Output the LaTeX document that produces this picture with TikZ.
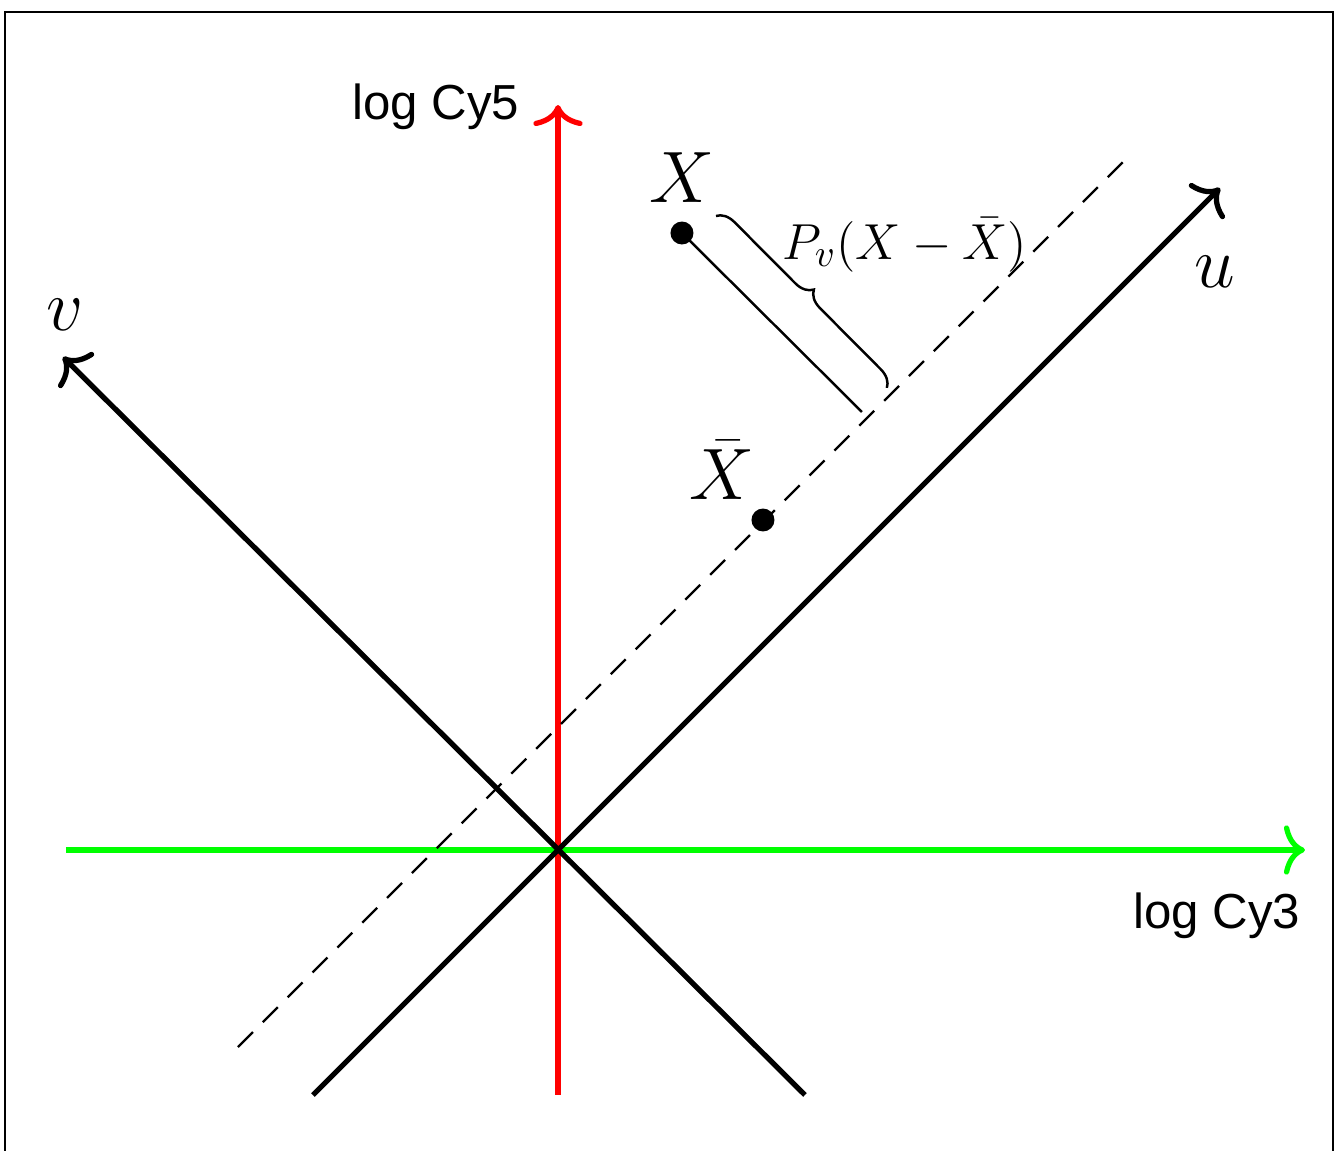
\documentclass[tikz,border=0pt]{standalone}
\usepackage{fontspec}
\setsansfont{Liberation Sans}
\usetikzlibrary{positioning, arrows.meta, calc, decorations.pathreplacing}
\definecolor{axisGreen}{HTML}{00FF00}
\definecolor{axisRed}{HTML}{FF0000}

\begin{document}
\begin{tikzpicture}[
      axis/.style={line width=1.5pt, -{To[length=6pt, width=14pt]}},
      dot/.style={circle, fill=black, inner sep=0pt, minimum size=0.23cm},
      chan/.style={font=\sffamily\fontsize{14}{17}\selectfont, inner sep=2pt},
      mlabel/.style={font=\fontsize{20}{24}\selectfont, inner sep=1pt},
      brace/.style={decorate, decoration={brace, amplitude=5pt}, line width=0.7pt}]
    \useasboundingbox (-5.58,-3.01) rectangle (7.77,8.50);
    \draw[line width=0.4pt] (-5.53,-3.3) rectangle (7.75,8.38);
    % corner points of the axes
    \coordinate (o) at (0,0);
    \coordinate (cy3a) at (-4.92,0); \coordinate (cy3b) at (7.47,0);
    \coordinate (cy5a) at (0,-2.45); \coordinate (cy5b) at (0,7.45);
    \coordinate (ua) at (-2.45,-2.45); \coordinate (ub) at (6.62,6.62);
    \coordinate (va) at (2.47,-2.45); \coordinate (vb) at (-4.95,4.93);
    \coordinate (da) at (-3.20,-1.97); \coordinate (db) at (5.70,6.93);
    \draw[axis, axisGreen] (cy3a) -- (cy3b);
    \draw[axis, axisRed] (cy5a) -- (cy5b);
    \draw[axis] (ua) -- (ub);
    \draw[axis] (va) -- (vb);
    \draw[line width=0.7pt, dash pattern=on 6pt off 4pt] (da) -- (db);
    \node[chan, anchor=east] (cy5) at (-0.31,7.43) {log Cy5};
    \node[chan, anchor=north east] (cy3) at (7.50,-0.35) {log Cy3};
    \node[mlabel] (ulab) at (6.57,5.78) {$u$};
    \node[mlabel] (vlab) at (-4.93,5.35) {$v$};
    % the two points
    \node[dot] (X) at (1.24,6.17) {};
    \node[dot] (Xbar) at (2.05,3.30) {};
    \coordinate (foot) at (3.04,4.38);
    \node[mlabel] (Xlab) at (1.24,6.72) {$X$};
    \node[mlabel] (Xbarlab) at (1.64,3.80) {$\bar{X}$};
    \draw[line width=0.7pt] (X.center) -- (foot);
    \draw[brace] ($(X)+(0.34,0.17)$) -- ($(foot)+(0.25,0.24)$);
    \node[font=\fontsize{15}{18}\selectfont] (proj) at (3.47,6.05) {$P_v(X-\bar{X})$};
  \end{tikzpicture}
\end{document}
